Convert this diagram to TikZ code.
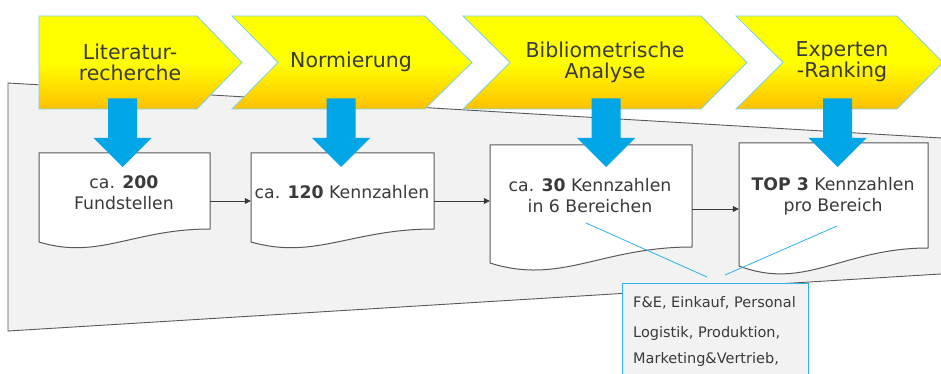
\documentclass[tikz,border=0pt]{standalone}
\usepackage{fontspec}
\setmainfont{DejaVu Sans}
\usetikzlibrary{arrows.meta,calc}
\definecolor{chevYe}{HTML}{FFFF00}
\definecolor{chevOr}{HTML}{FFC000}
\definecolor{chevLine}{HTML}{7DCFEE}
\definecolor{arrowBlue}{HTML}{00A6E6}
\definecolor{calloutBlue}{HTML}{2DB3EA}
\definecolor{panelGray}{HTML}{F2F2F2}
\definecolor{lineGray}{HTML}{595959}
\definecolor{textGray}{HTML}{3A3A3A}

% document shape: L, T, R, bottom-right y, bottom-left y
\newcommand\docshape[5]{%
  \draw[docbox] (#1,#2) -- (#3,#2) -- (#3,#4)
    .. controls ({#3-0.45*(#3-#1)},#4) and ({#1+0.35*(#3-#1)},{#5+1.4*(#5-#4)}) .. (#1,#5) -- cycle;}

% downward block arrow centred at x
\newcommand\blockarrow[1]{%
  \fill[arrowBlue] ({#1-14.5},98.5) -- ({#1+14.5},98.5) -- ({#1+14.5},138) -- ({#1+29},138)
    -- (#1,167) -- ({#1-29},138) -- ({#1-14.5},138) -- cycle;}

\begin{document}
\begin{tikzpicture}[x=1pt,y=-1pt,
  panel/.style={fill=panelGray,draw=lineGray,line width=0.9pt},
  chevron/.style={top color=chevYe,bottom color=chevOr,middle color=chevYe,draw=chevLine,line width=0.8pt},
  steplabel/.style={align=center,text=textGray,font=\fontsize{20.5}{21}\selectfont,inner sep=0pt},
  docbox/.style={fill=white,draw=lineGray,line width=1pt},
  frame/.style={draw=none,inner sep=0pt,rectangle},
  boxtext/.style={align=center,text=textGray,font=\fontsize{17.3}{21}\selectfont,inner sep=0pt},
  flow/.style={draw=textGray,line width=0.8pt,-{Triangle[length=6pt,width=6pt]}},
  callout/.style={draw=calloutBlue,line width=0.8pt},
  listbox/.style={fill=panelGray,draw=calloutBlue,line width=1pt,inner sep=0pt},
  listtext/.style={align=left,text=textGray,font=\fontsize{14.5}{26}\selectfont,inner sep=0pt}]
\useasboundingbox (0,0) rectangle (941,374);
\clip (0,0) rectangle (941,374);

% background panel
\draw[panel] (8,83) -- (960,139.1) -- (960,272.8) -- (8,331) -- cycle;

% process chevrons
\path[chevron] (39,16) -- (197,16) -- (242,62.5) -- (197,109) -- (39,109) -- cycle;
\path[chevron] (232,16) -- (425,16) -- (472,62.5) -- (425,109) -- (232,109) -- (278,62.5) -- cycle;
\path[chevron] (463,16) -- (701,16) -- (747,62.5) -- (701,109) -- (463,109) -- (510,62.5) -- cycle;
\path[chevron] (736,16) -- (897,16) -- (943,62.5) -- (897,109) -- (736,109) -- (783,62.5) -- cycle;

\node[steplabel] (s1) at (130,62) {Literatur-\\recherche};
\node[steplabel] (s2) at (351,62) {Normierung};
\node[steplabel] (s3) at (605,62) {Bibliometrische\\Analyse};
\node[steplabel] (s4) at (842,62) {Experten\\-Ranking};

% result documents
\docshape{39}{153}{210}{229}{242}
\docshape{251}{153}{434}{229}{242}
\docshape{490}{145}{692}{247}{263}
\docshape{739}{143}{928}{248}{266}

\node[frame,minimum width=171,minimum height=96] (b1) at (124.5,201) {};
\node[frame,minimum width=183,minimum height=96] (b2) at (342.5,201) {};
\node[frame,minimum width=202,minimum height=128] (b3) at (591,209) {};
\node[frame,minimum width=189,minimum height=132] (b4) at (833.5,209) {};

\node[boxtext] (t1) at (124,192.4) {ca. \textbf{200}\\Fundstellen};
\node[boxtext] (t2) at (342,191.6) {ca. \textbf{120} Kennzahlen};
\node[boxtext] (t3) at (590,196) {ca. \textbf{30} Kennzahlen\\in 6 Bereichen};
\node[boxtext] (t4) at (833,196) {\textbf{TOP 3} Kennzahlen\\pro Bereich};

\draw[flow] (b1) -- (b2);
\draw[flow] (b2.east) -- (b2.east -| b3.west);
\draw[flow] (b3) -- (b4);

% step-to-result arrows
\blockarrow{122.5}
\blockarrow{341}
\blockarrow{606}
\blockarrow{837.5}

% list of areas
\node[listbox,anchor=north west,minimum width=186,minimum height=100] (lb) at (622,283) {};
\node[listtext,anchor=north west] (lt) at (633,296.2) {F\&E, Einkauf, Personal\\[4pt]Logistik, Produktion,\\Marketing\&Vertrieb,};

\coordinate (k1) at (586,223);
\coordinate (k1e) at (707,277);
\coordinate (k2) at (837,226);
\coordinate (k2e) at (725,275);
\draw[callout] (k1) -- (k1e);
\draw[callout] (k2) -- (k2e);
\end{tikzpicture}
\end{document}
